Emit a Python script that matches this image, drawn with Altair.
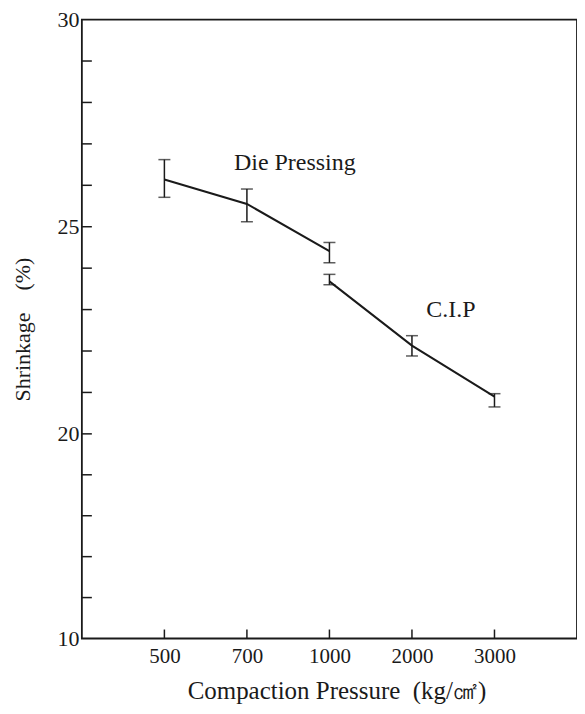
import altair as alt
import pandas as pd

# ---- data ----
pressures = ["500", "700", "1000", "2000", "3000"]

dp_x = ["500", "700", "1000"]
dp_y = [26.14, 25.55, 24.41]
dp_hi = [26.62, 25.91, 24.62]
dp_lo = [25.71, 25.12, 24.13]

cip_x = ["1000", "2000", "3000"]
cip_y = [23.68, 22.13, 20.90]
cip_hi = [23.85, 22.37, 20.97]
cip_lo = [23.60, 21.88, 20.65]

y_label_values = [10, 20, 25, 30]
y_minor_ticks = [12, 14, 16, 18, 20, 21, 22, 23, 24, 25, 26, 27, 28, 29]

annot_text = ["Die Pressing", "C.I.P"]
annot_x = ["700", "2000"]
annot_y = [26.55, 23.0]
annot_dx = [48, 39]

# ---- tables ----
df = pd.DataFrame({
    "p": dp_x + cip_x,
    "y": dp_y + cip_y,
    "hi": dp_hi + cip_hi,
    "lo": dp_lo + cip_lo,
    "series": ["Die Pressing"] * len(dp_x) + ["C.I.P"] * len(cip_x),
})
ticks_df = pd.DataFrame({"v": y_minor_ticks})
xt_df = pd.DataFrame({"p": pressures})

W, H = 496, 620
FONT = "Liberation Serif"
INK = "#1a1a1a"

x_scale = alt.Scale(type="point", domain=pressures, padding=1)
y_scale = alt.Scale(domain=[10, 20, 30], range=[H, H * 415 / 620, 0], nice=False, zero=False)

x_axis = alt.Axis(
    title="Compaction Pressure\u2002(kg/㎠)", ticks=False, domain=False, grid=False,
    labelAngle=0, labelFont=FONT, labelFontSize=21, labelPadding=7, labelColor=INK,
    titleFont=FONT, titleFontSize=25, titleFontWeight="normal", titlePadding=12,
    titleColor=INK, titleX=255,
)
y_axis = alt.Axis(
    title="Shrinkage\u2003(%)", values=y_label_values, ticks=False, domain=False,
    grid=False, labelFont=FONT, labelFontSize=22, labelPadding=3, labelColor=INK,
    labelOverlap=False, titleFont=FONT, titleFontSize=22, titleFontWeight="normal",
    titlePadding=22, titleColor=INK,
)


def X(field):
    return alt.X(field, scale=x_scale, axis=x_axis)


def Y(field):
    return alt.Y(field, scale=y_scale, axis=y_axis)


base = alt.Chart(df)

line = base.mark_line(color=INK, strokeWidth=2).encode(
    x=X("p:O"), y=Y("y:Q"), detail="series:N",
)

bars = base.mark_rule(color=INK, strokeWidth=1.5).encode(
    x=X("p:O"), y=Y("lo:Q"), y2="hi:Q",
)
cap_hi = base.mark_tick(color=INK, size=12, thickness=1.5, orient="horizontal").encode(
    x=X("p:O"), y=Y("hi:Q"),
)
cap_lo = base.mark_tick(color=INK, size=12, thickness=1.5, orient="horizontal").encode(
    x=X("p:O"), y=Y("lo:Q"),
)

yticks = alt.Chart(ticks_df).mark_rule(color=INK, strokeWidth=1.5).encode(
    y=Y("v:Q"), x=alt.value(0), x2=alt.value(10),
)
xticks = alt.Chart(xt_df).mark_rule(color=INK, strokeWidth=1.5).encode(
    x=X("p:O"), y=alt.value(H), y2=alt.value(H - 9),
)

annots = []
for t, xv, yv, dx in zip(annot_text, annot_x, annot_y, annot_dx):
    adf = pd.DataFrame({"p": [xv], "y": [yv], "t": [t]})
    annots.append(
        alt.Chart(adf).mark_text(font=FONT, fontSize=24, color=INK, dx=dx,
                                 align="center", baseline="middle").encode(
            x=X("p:O"), y=Y("y:Q"), text="t:N",
        )
    )

chart = alt.layer(line, bars, cap_hi, cap_lo, yticks, xticks, *annots).properties(
    width=W, height=H,
    padding={"left": 4, "top": 0, "right": 0, "bottom": 0},
    background="white",
).configure_view(stroke=INK, strokeWidth=1.8)

chart.save("out.html", embed_options={"renderer": "svg", "actions": False})
